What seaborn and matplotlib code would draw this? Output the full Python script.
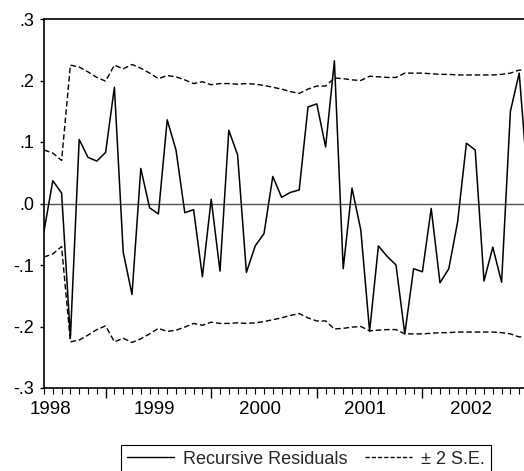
import numpy as np
import pandas as pd
import matplotlib
matplotlib.use("Agg")
import matplotlib.pyplot as plt
from matplotlib.lines import Line2D
import seaborn as sns

# ---- data (monthly, starting 1998M06) ----
start_period = "1998-06"
residuals = [-0.045, 0.037, 0.017, -0.218, 0.104, 0.075, 0.069, 0.083, 0.189, -0.079,
             -0.148, 0.057, -0.007, -0.017, 0.136, 0.087, -0.015, -0.010, -0.119, 0.007,
             -0.110, 0.119, 0.079, -0.112, -0.069, -0.049, 0.044, 0.010, 0.018, 0.022,
             0.157, 0.162, 0.092, 0.232, -0.106, 0.025, -0.043, -0.208, -0.069, -0.086,
             -0.100, -0.212, -0.106, -0.111, -0.008, -0.129, -0.106, -0.030, 0.098, 0.087,
             -0.126, -0.071, -0.128, 0.150, 0.212, 0.030]
two_se = [0.087, 0.082, 0.070, 0.225, 0.222, 0.214, 0.205, 0.199, 0.225, 0.219,
          0.226, 0.220, 0.212, 0.203, 0.208, 0.206, 0.201, 0.195, 0.198, 0.193,
          0.195, 0.195, 0.194, 0.195, 0.194, 0.192, 0.189, 0.186, 0.182, 0.179,
          0.186, 0.191, 0.191, 0.204, 0.203, 0.201, 0.200, 0.207, 0.206, 0.205,
          0.205, 0.212, 0.212, 0.212, 0.211, 0.210, 0.210, 0.209, 0.209, 0.209,
          0.209, 0.209, 0.210, 0.212, 0.217, 0.216]
y_ticks = [-0.3, -0.2, -0.1, 0.0, 0.1, 0.2, 0.3]
legend_labels = ["Recursive Residuals", "\u00b1 2 S.E."]

periods = pd.period_range(start_period, periods=len(residuals), freq="M")
df = pd.DataFrame({
    "obs": np.arange(len(residuals)),
    "resid": residuals,
    "upper": two_se,
    "lower": [-v for v in two_se],
})

sns.set_style("ticks")
plt.rcParams["font.family"] = ["Liberation Sans", "DejaVu Sans"]

W, H = 524, 471
fig = plt.figure(figsize=(W / 100, H / 100), dpi=100)
ax_left, ax_right, ax_top, ax_bottom = 44, 528, 19, 388
ax = fig.add_axes([ax_left / W, (H - ax_bottom) / H,
                   (ax_right - ax_left) / W, (ax_bottom - ax_top) / H])

ax.axhline(0, color="#555555", lw=1.0, zorder=1)
sns.lineplot(data=df, x="obs", y="upper", ax=ax, color="black", lw=1.0, zorder=2)
sns.lineplot(data=df, x="obs", y="lower", ax=ax, color="black", lw=1.0, zorder=2)
sns.lineplot(data=df, x="obs", y="resid", ax=ax, color="black", lw=1.1, zorder=3)
for line in ax.lines[1:3]:
    line.set_dashes((4, 2))

ax.set_xlim(0, len(residuals) - 1)
ax.set_ylim(-0.3, 0.3)
ax.set_xlabel("")
ax.set_ylabel("")

def fmt(v):
    s = f"{v:.1f}"
    return s.replace("0.", ".")

ax.set_yticks(y_ticks)
ax.set_yticklabels([fmt(v) for v in y_ticks])

jan_idx = [i for i, p in enumerate(periods) if p.month == 1]
ax.set_xticks(jan_idx)
ax.set_xticklabels([])
ax.set_xticks(df["obs"].tolist(), minor=True)
ax.tick_params(axis="x", which="major", direction="out", length=7, width=1.0,
               color="black")
ax.tick_params(axis="x", which="minor", direction="out", length=4, width=0.8,
               color="black")
ax.tick_params(axis="y", which="major", direction="out", length=3, width=1.0,
               labelsize=13, pad=4, color="black", labelcolor="black")

# year labels, centred within each year
years = sorted(set(p.year for p in periods))
for yr in years:
    idx = [i for i, p in enumerate(periods) if p.year == yr]
    if periods[idx[0]].month == 1:
        pos = idx[0] + 5.5
    else:
        pos = idx[0] + 0.7
    if pos > len(residuals) - 1:
        continue
    ax.text(pos, -0.058, str(yr), transform=ax.get_xaxis_transform(),
            ha="center", va="center", fontsize=13.5, color="black")

for side in ["top", "left", "bottom"]:
    ax.spines[side].set_visible(True)
    ax.spines[side].set_linewidth(1.2)
    ax.spines[side].set_color("black")
ax.spines["right"].set_visible(False)

handles = [Line2D([0], [0], color="black", lw=1.0),
           Line2D([0], [0], color="black", lw=1.0, dashes=(3, 1.5))]
leg = fig.legend(handles, legend_labels, loc="center",
                 bbox_to_anchor=(306 / W, (H - 459) / H), ncol=2,
                 frameon=True, fancybox=False, edgecolor="black", framealpha=1,
                 fontsize=13, handlelength=2.6, columnspacing=1.0,
                 handletextpad=0.5, borderpad=0.3, borderaxespad=0)
leg.get_frame().set_linewidth(0.8)

fig.savefig("out.png", dpi=100)
